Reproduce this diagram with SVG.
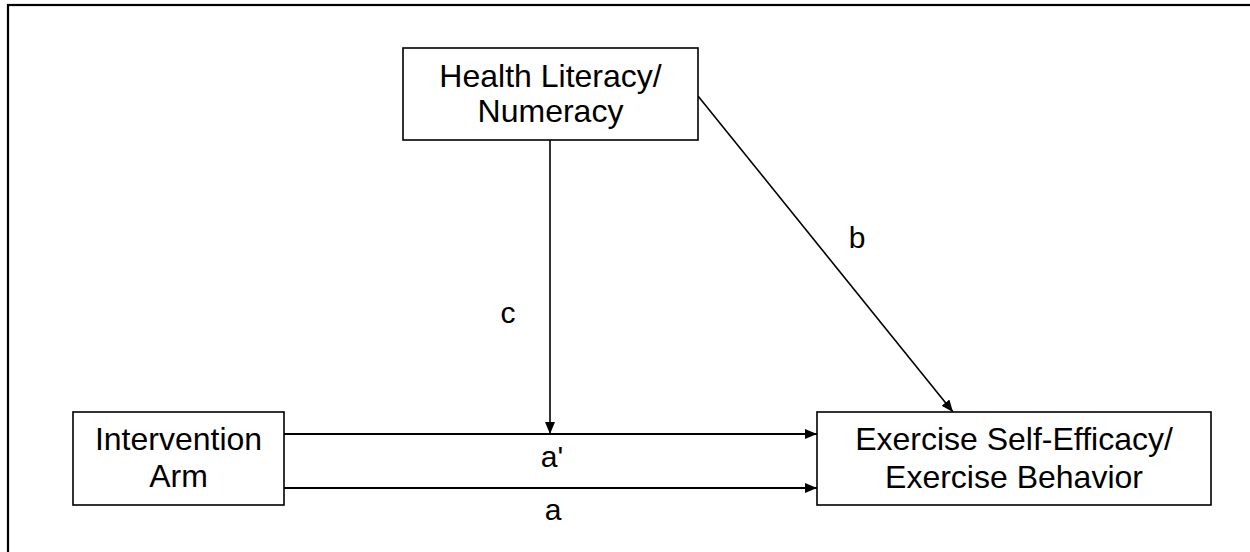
<svg xmlns="http://www.w3.org/2000/svg" width="1250" height="552" viewBox="0 0 1250 552">
<style>
.box{fill:#fff;stroke:#000;stroke-width:1.6}
.lbl{font-family:"Liberation Sans",Arial,sans-serif;font-size:32px;fill:#000;text-anchor:middle}
.sm{font-family:"Liberation Sans",Arial,sans-serif;font-size:30px;fill:#000;text-anchor:middle}
.conn{stroke:#000;stroke-width:1.6;fill:none;marker-end:url(#arr)}
</style>
<defs>
<marker id="arr" viewBox="0 0 12 10" refX="12" refY="5" markerWidth="12" markerHeight="10" markerUnits="userSpaceOnUse" orient="auto">
<path d="M0,0 L12,5 L0,10 z" fill="#000"/>
</marker>
</defs>
<rect width="1250" height="552" fill="#fff"/>
<rect x="8" y="5" width="1260" height="560" fill="none" stroke="#000" stroke-width="2.2"/>
<g id="connectors">
<line class="conn" x1="550" y1="140" x2="550" y2="434"/>
<line class="conn" x1="698" y1="96" x2="953" y2="412"/>
<line class="conn" x1="284" y1="434" x2="817" y2="434" style="stroke-width:2"/>
<line class="conn" x1="284" y1="488" x2="817" y2="488" style="stroke-width:2"/>
<text class="sm" x="508" y="323">c</text>
<text class="sm" x="857" y="248">b</text>
<text class="sm" x="552" y="467">a'</text>
<text class="sm" x="553" y="520">a</text>
</g>
<g id="health">
<rect class="box" x="403" y="48" width="295" height="92"/>
<text class="lbl" x="550.5" y="87">Health Literacy/</text>
<text class="lbl" x="550.5" y="122">Numeracy</text>
</g>
<g id="intervention">
<rect class="box" x="73" y="412" width="211" height="93"/>
<text class="lbl" x="178.5" y="450">Intervention</text>
<text class="lbl" x="178.5" y="487">Arm</text>
</g>
<g id="exercise">
<rect class="box" x="817" y="412" width="394" height="93"/>
<text class="lbl" x="1014" y="450">Exercise Self-Efficacy/</text>
<text class="lbl" x="1014" y="488">Exercise Behavior</text>
</g>
</svg>
